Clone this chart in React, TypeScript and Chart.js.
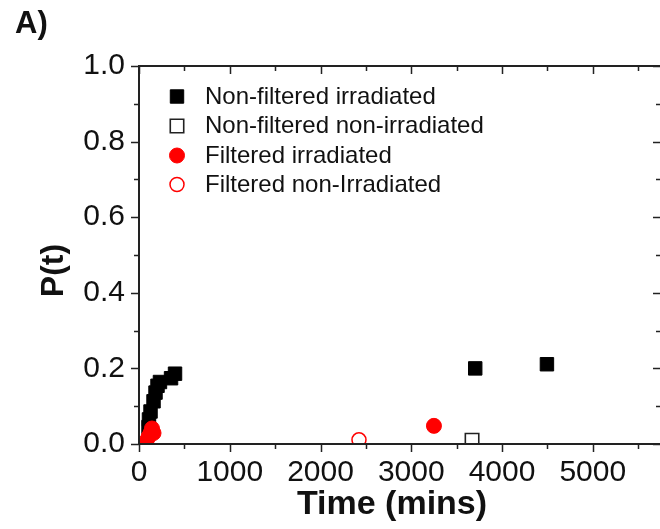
import React, { useEffect, useRef } from "react";
import { Chart, registerables } from "chart.js";

Chart.register(...registerables);

// ---- data ----
const nonFilteredIrradiatedT = [105, 110, 127, 160, 182, 204, 231, 353, 397, 3705, 4495];
const nonFilteredIrradiatedP = [0.045, 0.065, 0.086, 0.113, 0.136, 0.154, 0.164, 0.174, 0.186, 0.2, 0.211];

const nonFilteredNonIrradiatedT = [3670];
const nonFilteredNonIrradiatedP = [0.01];

const filteredIrradiatedT = [83, 105, 127, 143, 160, 3250];
const filteredIrradiatedP = [0.008, 0.019, 0.029, 0.041, 0.029, 0.048];

const filteredNonIrradiatedT = [2424];
const filteredNonIrradiatedP = [0.011];

const seriesLabels = [
  "Non-filtered irradiated",
  "Non-filtered non-irradiated",
  "Filtered irradiated",
  "Filtered non-Irradiated",
];

const xTickValues = [0, 1000, 2000, 3000, 4000, 5000];
const xMinorValues = [500, 1500, 2500, 3500, 4500, 5500];
const yTickValues = [0, 0.2, 0.4, 0.6, 0.8, 1.0];
const yMinorValues = [0.1, 0.3, 0.5, 0.7, 0.9];

const xTitle = "Time (mins)";
const yTitle = "P(t)";
const panelLabel = "A)";

const FONT = "'Liberation Sans', Arial, Helvetica, sans-serif";
const TEXT = "#111";

function toPoints(xs: number[], ys: number[]) {
  return xs.map((x, i) => ({ x, y: ys[i] }));
}

const framePlugin = {
  id: "frameTicks",
  afterDatasetsDraw(chart: any) {
    const { ctx, chartArea, scales } = chart;
    const { left, right, top, bottom } = chartArea;
    const xs = scales.x;
    const ys = scales.y;
    ctx.save();
    ctx.strokeStyle = "#222";
    ctx.lineWidth = 2;
    ctx.beginPath();
    ctx.rect(left, top, right - left, bottom - top);
    ctx.stroke();
    ctx.lineWidth = 1.5;
    const major = 8;
    const minor = 5;
    ctx.beginPath();
    for (const v of xTickValues) {
      const px = Math.round(xs.getPixelForValue(v)) + 0.5;
      ctx.moveTo(px, bottom);
      ctx.lineTo(px, bottom + major);
      ctx.moveTo(px, top);
      ctx.lineTo(px, top + major);
    }
    for (const v of xMinorValues) {
      const px = Math.round(xs.getPixelForValue(v)) + 0.5;
      ctx.moveTo(px, bottom);
      ctx.lineTo(px, bottom + minor);
      ctx.moveTo(px, top);
      ctx.lineTo(px, top + minor);
    }
    for (const v of yTickValues) {
      const py = Math.round(ys.getPixelForValue(v)) + 0.5;
      ctx.moveTo(left, py);
      ctx.lineTo(left - major, py);
      ctx.moveTo(right, py);
      ctx.lineTo(right - major, py);
    }
    for (const v of yMinorValues) {
      const py = Math.round(ys.getPixelForValue(v)) + 0.5;
      ctx.moveTo(left, py);
      ctx.lineTo(left - minor, py);
      ctx.moveTo(right, py);
      ctx.lineTo(right - minor, py);
    }
    ctx.stroke();

    // titles
    ctx.fillStyle = TEXT;
    ctx.font = `bold 34px ${FONT}`;
    ctx.textAlign = "center";
    ctx.textBaseline = "alphabetic";
    ctx.fillText(xTitle, 392, 514);

    ctx.save();
    ctx.translate(63, 270.5);
    ctx.rotate(-Math.PI / 2);
    ctx.font = `bold 32px ${FONT}`;
    ctx.textAlign = "center";
    ctx.fillText(yTitle, 0, 0);
    ctx.restore();

    ctx.font = `bold 31px ${FONT}`;
    ctx.textAlign = "left";
    ctx.fillText(panelLabel, 15, 33);

    // legend
    const rows = [96.5, 126, 155.5, 184.5];
    const mx = 177;
    ctx.font = `24px ${FONT}`;
    ctx.textAlign = "left";
    chart.data.datasets.forEach((ds: any, i: number) => {
      const cy = rows[i];
      const r = ds.pointRadius;
      ctx.save();
      ctx.lineWidth = ds.pointBorderWidth;
      ctx.strokeStyle = ds.pointBorderColor;
      ctx.fillStyle = ds.pointBackgroundColor;
      ctx.beginPath();
      if (ds.pointStyle === "rect") {
        const s = r * Math.SQRT1_2;
        ctx.rect(mx - s, cy - s, 2 * s, 2 * s);
      } else {
        ctx.arc(mx, cy, r, 0, Math.PI * 2);
      }
      ctx.fill();
      ctx.stroke();
      ctx.restore();
      ctx.fillStyle = TEXT;
      ctx.fillText(ds.label, 205, cy + 7);
    });
    ctx.restore();
  },
};

export default function App() {
  const ref = useRef<HTMLCanvasElement | null>(null);
  useEffect(() => {
    if (!ref.current) return;
    const chart = new Chart(ref.current, {
      type: "scatter",
      data: {
        datasets: [
          {
            label: seriesLabels[0],
            data: toPoints(nonFilteredIrradiatedT, nonFilteredIrradiatedP),
            pointStyle: "rect",
            pointRadius: 9.5,
            pointBackgroundColor: "#000",
            pointBorderColor: "#000",
            pointBorderWidth: 1,
            order: 3,
            clip: 0,
          } as any,
          {
            label: seriesLabels[1],
            data: toPoints(nonFilteredNonIrradiatedT, nonFilteredNonIrradiatedP),
            pointStyle: "rect",
            pointRadius: 9.5,
            pointBackgroundColor: "#fff",
            pointBorderColor: "#222",
            pointBorderWidth: 1.6,
            order: 2,
            clip: 0,
          },
          {
            label: seriesLabels[2],
            data: toPoints(filteredIrradiatedT, filteredIrradiatedP),
            pointStyle: "circle",
            pointRadius: 7.5,
            pointBackgroundColor: "#ff0000",
            pointBorderColor: "#ff0000",
            pointBorderWidth: 1,
            order: 1,
            clip: 0,
          },
          {
            label: seriesLabels[3],
            data: toPoints(filteredNonIrradiatedT, filteredNonIrradiatedP),
            pointStyle: "circle",
            pointRadius: 7,
            pointBackgroundColor: "#fff",
            pointBorderColor: "#ff0000",
            pointBorderWidth: 1.5,
            order: 0,
            clip: 0,
          },
        ],
      },
      options: {
        animation: false,
        responsive: false,
        devicePixelRatio: 1,
        events: [],
        layout: { autoPadding: false, padding: { top: 66, right: 3, left: 0, bottom: 0 } },
        plugins: {
          legend: { display: false },
          title: { display: false },
          tooltip: { enabled: false },
        },
        scales: {
          x: {
            type: "linear",
            position: "bottom",
            min: 0,
            max: 5752,
            afterFit: (s: any) => {
              s.height = 85;
              s.paddingLeft = 0;
              s.paddingRight = 0;
            },
            afterBuildTicks: (s: any) => {
              s.ticks = xTickValues.map((v) => ({ value: v }));
            },
            ticks: {
              autoSkip: false,
              maxRotation: 0,
              padding: 11,
              color: TEXT,
              font: { family: FONT, size: 30 },
              callback: (v: any) => String(v),
            },
            grid: { display: false, drawTicks: false },
            border: { display: false },
          },
          y: {
            type: "linear",
            min: 0,
            max: 1,
            afterFit: (s: any) => {
              s.width = 139;
              s.paddingTop = 0;
              s.paddingBottom = 0;
            },
            afterBuildTicks: (s: any) => {
              s.ticks = yTickValues.map((v) => ({ value: v }));
            },
            ticks: {
              autoSkip: false,
              padding: 14,
              color: TEXT,
              font: { family: FONT, size: 30 },
              callback: (v: any) => Number(v).toFixed(1),
            },
            grid: { display: false, drawTicks: false },
            border: { display: false },
          },
        },
      },
      plugins: [framePlugin],
    });
    return () => chart.destroy();
  }, []);

  return (
    <div
      style={{
        position: "absolute",
        left: 0,
        top: 0,
        width: 660,
        height: 529,
        overflow: "hidden",
        background: "#fff",
      }}
    >
      <canvas ref={ref} width={664} height={529} style={{ width: 664, height: 529, display: "block" }} />
    </div>
  );
}
